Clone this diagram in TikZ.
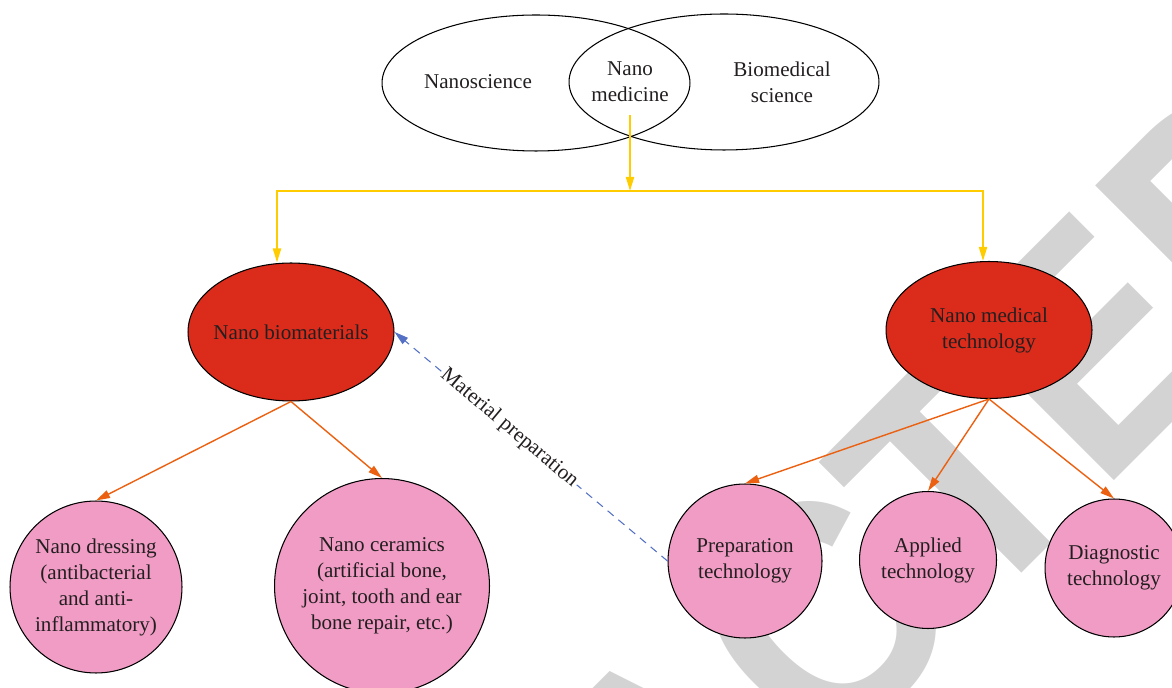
\documentclass[tikz,border=0pt]{standalone}
\usepackage{fontspec}
\setmainfont{Liberation Serif}
\newfontfamily\stampfont[Kerning=Off]{Liberation Sans}
\usetikzlibrary{shapes.geometric,arrows.meta}
\definecolor{nanored}{RGB}{218,43,27}
\definecolor{nanopink}{RGB}{241,156,197}
\definecolor{arrowgold}{RGB}{255,204,0}
\definecolor{arroworange}{RGB}{235,97,17}
\definecolor{dashblue}{RGB}{84,112,196}
\definecolor{stampgrey}{RGB}{211,211,211}
\definecolor{inkblack}{RGB}{35,31,32}

\begin{document}
\begin{tikzpicture}[x=0.02cm, y=-0.02cm, font=\fontsize{12}{14.8}\selectfont, text=inkblack,
    >={Triangle[length=8pt,width=4.6pt]}]
    \tikzstyle{venn}=[ellipse, draw=black, line width=0.6pt, inner sep=0pt]
    \tikzstyle{redoval}=[ellipse, draw=black, line width=0.6pt, fill=nanored, inner sep=0pt, minimum width=4.12cm]
    \tikzstyle{pinkball}=[circle, draw=black, line width=0.6pt, fill=nanopink, inner sep=0pt, align=center]
    \tikzstyle{stamp}=[text=stampgrey, inner sep=0pt, font=\stampfont\bfseries\fontsize{166.7}{170}\selectfont]
    \useasboundingbox (0,0) rectangle (1172,688);
    \clip (0,0) rectangle (1172,688);
    % watermark behind everything
    \node[stamp, anchor=base west, rotate=45, yscale=1.1] (stampword) at (674.5,920.5) {\llap{RETR}ACTED};
    \begin{scope}
        \node[venn, minimum width=6.16cm, minimum height=2.72cm] (nsci) at (536,83) {};
        \node[venn, minimum width=6.2cm, minimum height=2.72cm] (bsci) at (724,82) {};
        \node (nscitxt) at (478,82) {Nanoscience};
        \node[align=center] (nmed) at (630,82) {Nano\\medicine};
        \node[align=center] (bscitxt) at (782,82) {Biomedical\\science};
    \end{scope}
    \begin{scope}
        \node[redoval, minimum height=2.76cm, label=center:Nano biomaterials] (bio) at (291,332) {};
        \node[redoval, minimum height=2.74cm, label={[align=center]center:Nano medical\\technology}] (med) at (989,330) {};
        \node[pinkball, minimum size=3.44cm] (dress) at (96,587) {Nano dressing\\(antibacterial\\and anti-\\inflammatory)};
        \node[pinkball, minimum size=4.3cm] (cera) at (382,586) {Nano ceramics\\(artificial bone,\\joint, tooth and ear\\bone repair, etc.)};
        \node[pinkball, minimum size=3.08cm] (prep) at (745,561) {Preparation\\technology};
        \node[pinkball, minimum size=2.74cm] (appl) at (928,560) {Applied\\technology};
        \node[pinkball, minimum size=2.76cm] (diag) at (1114,568) {Diagnostic\\technology};
    \end{scope}
    \begin{scope}
        \tikzstyle{every edge}=[draw, line width=1.1pt, arrowgold, ->]
        \coordinate (ytop) at (630,115);
        \coordinate (split) at (630,191);
        \coordinate (yl) at (277,191);
        \coordinate (yr) at (983,191);
        \path (ytop) edge (split);
        \draw[line width=1.1pt, arrowgold, <->] (yl |- bio.north) -- (yl) -- (yr) -- (yr |- med.north);
    \end{scope}
    \begin{scope}
        \tikzstyle{every edge}=[draw, line width=0.8pt, arroworange, ->]
        \path
        (bio.south) edge (dress.north)
        (bio.south) edge (cera.north)
        (med.south) edge (prep.north)
        (med.south) edge (appl.north)
        (med.south) edge (diag.north);
    \end{scope}
    \path (prep.west) edge[draw, line width=0.6pt, dashblue, dash pattern=on 4.5pt off 3.5pt, ->]
        node[sloped, pos=0.58, fill=white, inner sep=1pt, text=inkblack] (matprep) {Material preparation} (bio.east);
\end{tikzpicture}
\end{document}
